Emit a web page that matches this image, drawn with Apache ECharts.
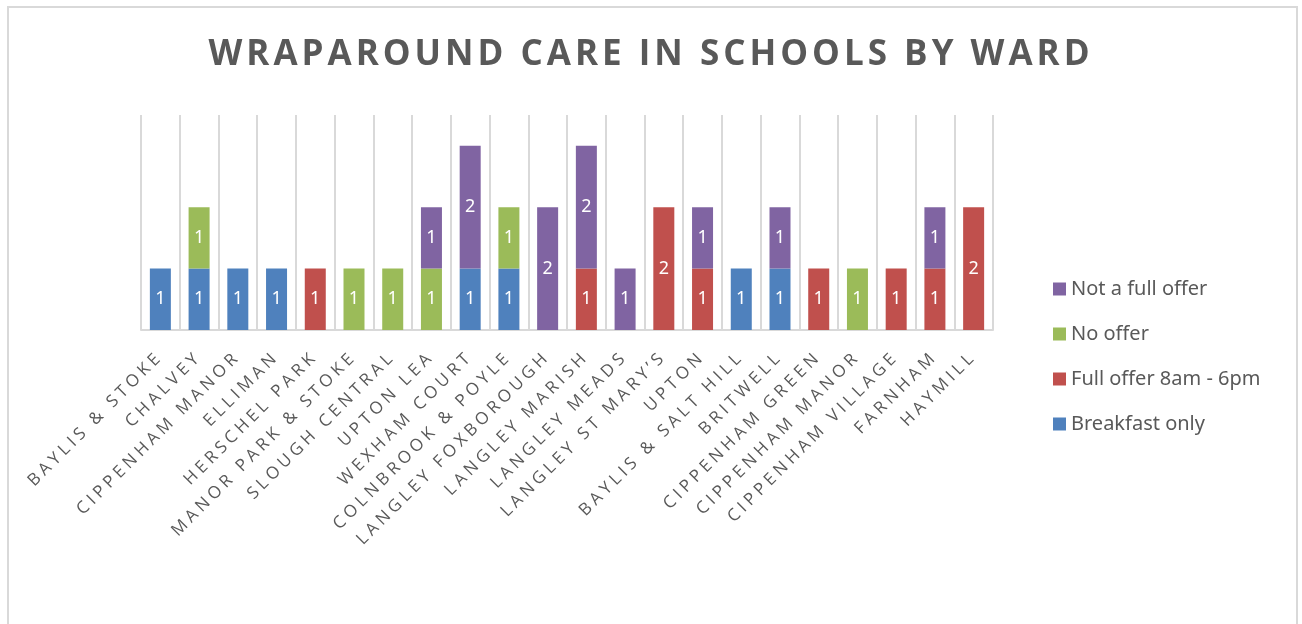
<!DOCTYPE html>
<html>
<head>
<meta charset="utf-8">
<script src="https://cdn.jsdelivr.net/npm/echarts@6/dist/echarts.min.js"></script>
<style>
  html, body { margin: 0; padding: 0; background: #ffffff; }
  #chart { width: 1302px; height: 624px; }
</style>
</head>
<body>
<div id="chart"></div>
<script>
// Wards, in the order they appear along the axis
const wards = [
  'BAYLIS & STOKE', 'CHALVEY', 'CIPPENHAM MANOR', 'ELLIMAN', 'HERSCHEL PARK',
  'MANOR PARK & STOKE', 'SLOUGH CENTRAL', 'UPTON LEA', 'WEXHAM COURT',
  'COLNBROOK & POYLE', 'LANGLEY FOXBOROUGH', 'LANGLEY MARISH', 'LANGLEY MEADS',
  'LANGLEY ST MARY’S', 'UPTON', 'BAYLIS & SALT HILL', 'BRITWELL',
  'CIPPENHAM GREEN', 'CIPPENHAM MANOR', 'CIPPENHAM VILLAGE', 'FARNHAM', 'HAYMILL'
];

// Number of schools per ward for each type of provision
const breakfastOnly = [1, 1, 1, 1, 0, 0, 0, 0, 1, 1, 0, 0, 0, 0, 0, 1, 1, 0, 0, 0, 0, 0];
const fullOffer     = [0, 0, 0, 0, 1, 0, 0, 0, 0, 0, 0, 1, 0, 2, 1, 0, 0, 1, 0, 1, 1, 2];
const noOffer       = [0, 1, 0, 0, 0, 1, 1, 1, 0, 1, 0, 0, 0, 0, 0, 0, 0, 0, 1, 0, 0, 0];
const notFullOffer  = [0, 0, 0, 0, 0, 0, 0, 1, 2, 0, 2, 2, 1, 0, 1, 0, 1, 0, 0, 0, 1, 0];

const seriesNames = ['Breakfast only', 'Full offer 8am - 6pm', 'No offer', 'Not a full offer'];
const legendOrder = ['Not a full offer', 'No offer', 'Full offer 8am - 6pm', 'Breakfast only'];
const chartTitle = 'WRAPAROUND CARE IN SCHOOLS BY WARD';

const COLORS = ['#4F81BD', '#C0504D', '#9BBB59', '#8064A2'];
const TEXT_GREY = '#595959';
const LINE_GREY = '#d9d9d9';

// The title and the ward names are set in tracked capitals. Canvas text has a
// letterSpacing property; apply it only while those strings are being drawn.
const TRACKED = new Map();
TRACKED.set(chartTitle, 4);
wards.forEach(w => TRACKED.set(w, 4));
(function () {
  const proto = CanvasRenderingContext2D.prototype;
  const rawFill = proto.fillText;
  proto.fillText = function (text, x, y, maxWidth) {
    const spacing = TRACKED.get(String(text));
    const useSpacing = spacing && ('letterSpacing' in this);
    if (useSpacing) {
      this.save();
      this.letterSpacing = spacing + 'px';
    }
    if (maxWidth === undefined) rawFill.call(this, text, x, y);
    else rawFill.call(this, text, x, y, maxWidth);
    if (useSpacing) this.restore();
  };
})();

const stacks = [breakfastOnly, fullOffer, noOffer, notFullOffer];

const chart = echarts.init(document.getElementById('chart'), null, { renderer: 'canvas' });

chart.setOption({
  animation: false,
  backgroundColor: '#ffffff',
  color: COLORS,
  graphic: [{
    type: 'rect',
    silent: true,
    shape: { x: 8, y: 7, width: 1289, height: 700 },
    style: { fill: 'none', stroke: LINE_GREY, lineWidth: 2 }
  }],
  title: {
    text: chartTitle,
    left: 'center',
    top: 38,
    padding: 0,
    textStyle: {
      fontFamily: 'Open Sans',
      fontWeight: 'bold',
      fontSize: 35,
      color: TEXT_GREY
    }
  },
  legend: {
    data: legendOrder,
    orient: 'vertical',
    left: 1053,
    top: 279,
    padding: 0,
    itemWidth: 13,
    itemHeight: 13,
    itemGap: 25,
    icon: 'rect',
    textStyle: {
      fontFamily: 'Noto Sans',
      fontSize: 20,
      lineHeight: 20,
      color: TEXT_GREY
    }
  },
  grid: {
    left: 141,
    right: 309,
    top: 115,
    bottom: 294,
    containLabel: false
  },
  xAxis: {
    type: 'category',
    data: wards,
    boundaryGap: true,
    axisLine: { show: true, lineStyle: { color: LINE_GREY, width: 2 } },
    axisTick: { show: false },
    splitLine: { show: true, lineStyle: { color: LINE_GREY, width: 2 } },
    axisLabel: {
      interval: 0,
      rotate: 45,
      margin: 24,
      fontFamily: 'Open Sans',
      fontSize: 17,
      color: TEXT_GREY
    }
  },
  yAxis: {
    type: 'value',
    min: 0,
    max: 3.5,
    show: false,
    splitLine: { show: false }
  },
  series: stacks.map((values, i) => ({
    name: seriesNames[i],
    type: 'bar',
    stack: 'wards',
    barWidth: 21,
    data: values,
    itemStyle: { color: COLORS[i] },
    label: {
      show: true,
      position: 'inside',
      color: '#ffffff',
      fontFamily: 'Noto Sans',
      fontSize: 18,
      textBorderWidth: 0,
      formatter: p => (p.value ? String(p.value) : '')
    }
  }))
});
</script>
</body>
</html>
